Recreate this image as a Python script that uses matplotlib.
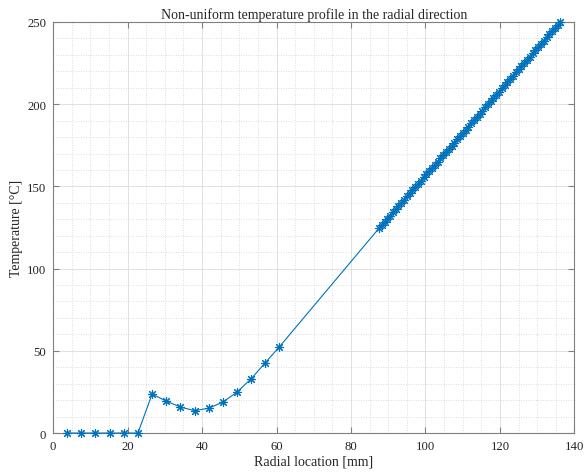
import matplotlib
matplotlib.use("Agg")
import matplotlib.pyplot as plt
from matplotlib.ticker import MultipleLocator

# radial positions [mm] and temperatures [degC]
radius_inner = [3.8, 7.6, 11.4, 15.2, 19.0, 22.8, 26.6, 30.4, 34.2, 38.0,
                41.8, 45.6, 49.4, 53.2, 57.0, 60.8]
temp_inner = [0.0, 0.0, 0.0, 0.0, 0.0, 0.0, 23.7, 19.4, 15.8, 13.6,
              15.1, 18.8, 24.9, 33.0, 42.8, 52.5]

radius_outer = [87.50, 88.25, 89.00, 89.75, 90.50, 91.25, 92.00, 92.75, 93.50, 94.25,
                95.00, 95.75, 96.50, 97.25, 98.00, 98.75, 99.50, 100.25, 101.00, 101.75,
                102.50, 103.25, 104.00, 104.75, 105.50, 106.25, 107.00, 107.75, 108.50, 109.25,
                110.00, 110.75, 111.50, 112.25, 113.00, 113.75, 114.50, 115.25, 116.00, 116.75,
                117.50, 118.25, 119.00, 119.75, 120.50, 121.25, 122.00, 122.75, 123.50, 124.25,
                125.00, 125.75, 126.50, 127.25, 128.00, 128.75, 129.50, 130.25, 131.00, 131.75,
                132.50, 133.25, 134.00, 134.75, 135.50, 136.10]
temp_outer = [124.5, 126.4, 128.4, 130.3, 132.2, 134.2, 136.1, 138.0, 140.0, 141.9,
              143.9, 145.8, 147.7, 149.7, 151.6, 153.5, 155.5, 157.4, 159.3, 161.3,
              163.2, 165.1, 167.1, 169.0, 170.9, 172.9, 174.8, 176.7, 178.7, 180.6,
              182.6, 184.5, 186.4, 188.4, 190.3, 192.2, 194.2, 196.1, 198.0, 200.0,
              201.9, 203.8, 205.8, 207.7, 209.6, 211.6, 213.5, 215.4, 217.4, 219.3,
              221.3, 223.2, 225.1, 227.1, 229.0, 230.9, 232.9, 234.8, 236.7, 238.7,
              240.6, 242.5, 244.5, 246.4, 248.3, 250.0]

radius = radius_inner + radius_outer
temp = temp_inner + temp_outer

plt.rcParams["font.family"] = ["Liberation Serif", "DejaVu Serif"]
text_color = "#262626"
axis_color = "#808080"

fig = plt.figure(figsize=(5.84, 4.77), dpi=100)
ax = fig.add_axes([0.0908, 0.0901, 0.8929, 0.8617])

ax.plot(radius, temp, color="#0072BD", linewidth=0.8,
        marker=(8, 2, 0), markersize=6.5, markeredgewidth=0.8, clip_on=False, zorder=3)

ax.set_xlim(0, 140)
ax.set_ylim(0, 250)
ax.xaxis.set_major_locator(MultipleLocator(20))
ax.xaxis.set_minor_locator(MultipleLocator(5))
ax.yaxis.set_major_locator(MultipleLocator(50))
ax.yaxis.set_minor_locator(MultipleLocator(10))

ax.grid(which="major", color="#dcdcdc", linewidth=0.6, linestyle="-")
ax.grid(which="minor", color="#d0d0d0", linewidth=0.6, linestyle=(0, (1, 2)))
ax.set_axisbelow(True)

for side in ax.spines.values():
    side.set_color(axis_color)
    side.set_linewidth(0.8)

ax.tick_params(which="both", direction="in", top=True, right=True,
               colors=axis_color, labelcolor=text_color, labelsize=9.2)
ax.tick_params(which="major", length=4, pad=5)
ax.tick_params(which="minor", length=0)

ax.set_title("Non-uniform temperature profile in the radial direction",
             fontsize=10, color=text_color, pad=3)
ax.set_xlabel("Radial location [mm]", fontsize=10, color=text_color, labelpad=2)
ax.set_ylabel("Temperature [\u00b0C]", fontsize=10, color=text_color, labelpad=3)

fig.savefig("out.png", dpi=100)
